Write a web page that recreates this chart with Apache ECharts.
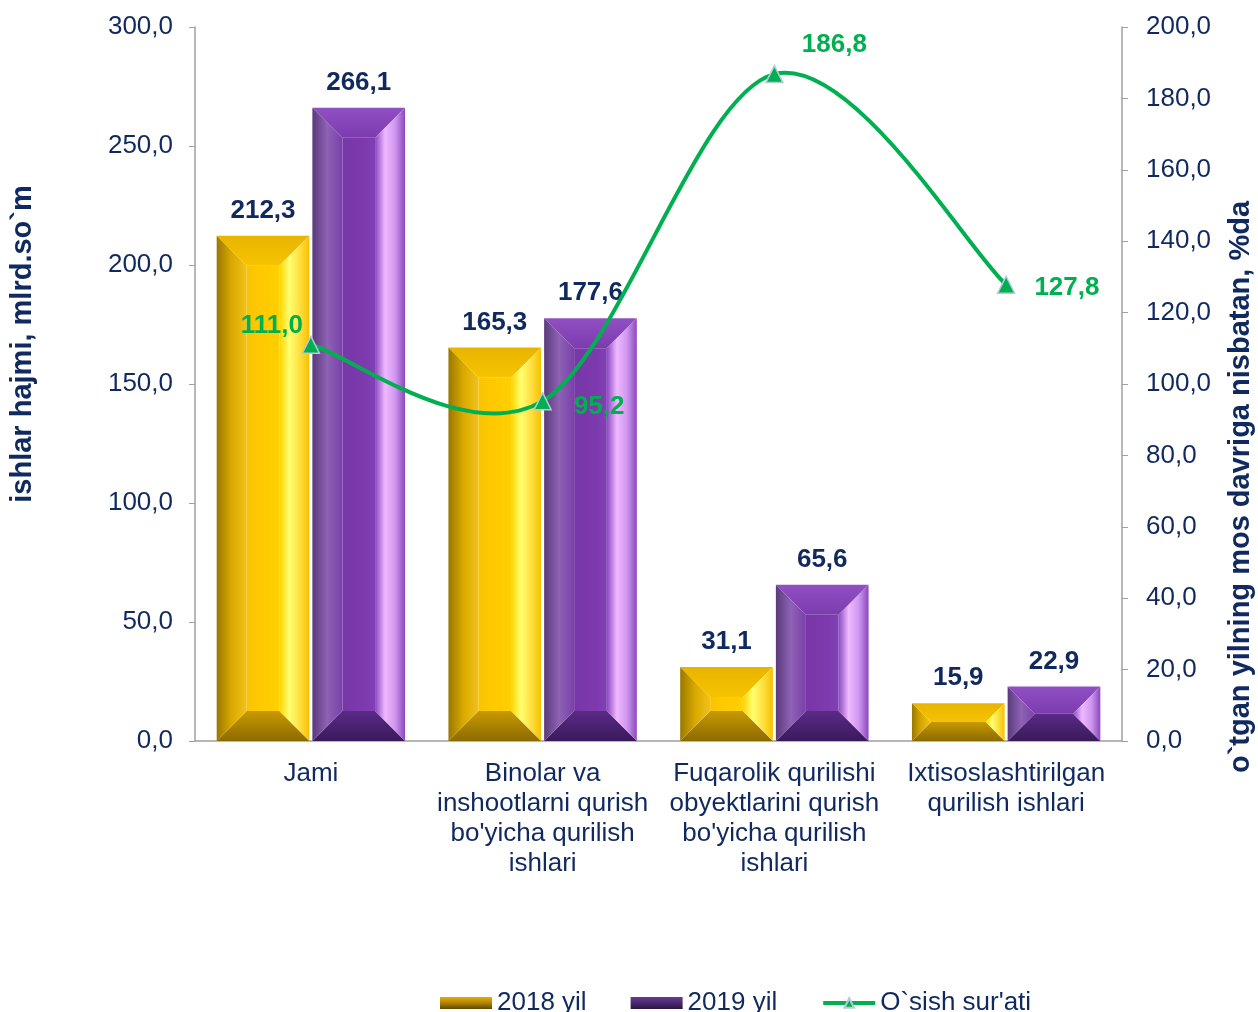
<!DOCTYPE html>
<html>
<head>
<meta charset="utf-8">
<script src="https://cdn.jsdelivr.net/npm/echarts@6/dist/echarts.min.js"></script>
<style>
  html, body { margin: 0; padding: 0; background: #fff; }
  #chart { width: 1258px; height: 1012px; }
</style>
</head>
<body>
<div id="chart"></div>
<script>
var categories = [
    'Jami',
    'Binolar va\ninshootlarni qurish\nbo\'yicha qurilish\nishlari',
    'Fuqarolik qurilishi\nobyektlarini qurish\nbo\'yicha qurilish\nishlari',
    'Ixtisoslashtirilgan\nqurilish ishlari'
];
var values2018 = [212.3, 165.3, 31.1, 15.9];
var values2019 = [266.1, 177.6, 65.6, 22.9];
var growthRate = [111.0, 95.2, 186.8, 127.8];
var leftTicks = [0, 300, 50];
var rightTicks = [0, 200, 20];

var NAVY = '#10295F';
var GREEN = '#00B050';
var FONT = 'Arial, "Liberation Sans", sans-serif';

function fmt(v) {
    return v.toFixed(1).replace('.', ',');
}

function hgrad(stops) {
    return {type: 'linear', x: 0, y: 0, x2: 1, y2: 0,
        colorStops: stops.map(function (c, i) { return {offset: i / (stops.length - 1), color: c}; })};
}
function vgrad(stops) {
    return {type: 'linear', x: 0, y: 0, x2: 0, y2: 1,
        colorStops: stops.map(function (c, i) { return {offset: i / (stops.length - 1), color: c}; })};
}

var yellowPal = {
    center: hgrad(['#F8C400', '#FFC800', '#FFCB00', '#FFD000']),
    top: vgrad(['#E9B400', '#F6C400']),
    bottom: vgrad(['#C89A00', '#8C6A00']),
    left: hgrad(['#9A7800', '#D9A900', '#F3C21A']),
    right: hgrad(['#FFD400', '#FFFF70', '#FFE040', '#F6C000'])
};
var purplePal = {
    center: hgrad(['#7838A8', '#7A38AA', '#7C3AAE', '#8040B4']),
    top: vgrad(['#9050C4', '#7C3CAE']),
    bottom: vgrad(['#5A2A88', '#3A1A5A']),
    left: hgrad(['#5A3A7C', '#8E62B4', '#7A40AA']),
    right: hgrad(['#8A48C0', '#F0B8FF', '#D098F0', '#8A48BC'])
};

// bevelled bar, drawn from the axis coordinates
function bevelRenderer(pal, side) {
    return function (params, api) {
        var top = api.coord([api.value(0), api.value(1)]);
        var base = api.coord([api.value(0), 0]);
        var bw = api.size([1, 0])[0];
        var w = bw * 0.4;
        var x0 = side < 0 ? top[0] - 1.5 - w : top[0] + 1.5;
        var x1 = x0 + w;
        var y0 = top[1], y1 = base[1];
        var h = y1 - y0;
        var b = Math.min(30, h / 2, w / 2);
        return {
            type: 'group',
            children: [
                {type: 'rect', shape: {x: x0 + b, y: y0 + b, width: w - 2 * b, height: Math.max(0, h - 2 * b)}, style: {fill: pal.center}},
                {type: 'polygon', shape: {points: [[x0, y0], [x1, y0], [x1 - b, y0 + b], [x0 + b, y0 + b]]}, style: {fill: pal.top}},
                {type: 'polygon', shape: {points: [[x0, y1], [x1, y1], [x1 - b, y1 - b], [x0 + b, y1 - b]]}, style: {fill: pal.bottom}},
                {type: 'polygon', shape: {points: [[x0, y0], [x0 + b, y0 + b], [x0 + b, y1 - b], [x0, y1]]}, style: {fill: pal.left}},
                {type: 'polygon', shape: {points: [[x1, y0], [x1 - b, y0 + b], [x1 - b, y1 - b], [x1, y1]]}, style: {fill: pal.right}},
                {type: 'text', x: (x0 + x1) / 2, y: y0 - 25, style: {
                    text: fmt(api.value(1)), fill: NAVY, font: 'bold 26px ' + FONT,
                    align: 'center', verticalAlign: 'middle'}}
            ]
        };
    };
}

// smoothed growth line (excel-like catmull-rom between the data points)
function curveRenderer(params, api) {
    var i = params.dataIndex;
    if (i === 0) return null;
    var n = growthRate.length;
    var pt = function (j) {
        j = Math.max(0, Math.min(n - 1, j));
        return api.coord([j, growthRate[j]]);
    };
    var p0 = pt(i - 2), p1 = pt(i - 1), p2 = pt(i), p3 = pt(i + 1);
    return {
        type: 'bezierCurve',
        shape: {
            x1: p1[0], y1: p1[1], x2: p2[0], y2: p2[1],
            cpx1: p1[0] + (p2[0] - p0[0]) / 6, cpy1: p1[1] + (p2[1] - p0[1]) / 6,
            cpx2: p2[0] - (p3[0] - p1[0]) / 6, cpy2: p2[1] - (p3[1] - p1[1]) / 6
        },
        style: {stroke: GREEN, lineWidth: 4, fill: null}
    };
}

var chart = echarts.init(document.getElementById('chart'));
chart.setOption({
    backgroundColor: '#fff',
    textStyle: {fontFamily: FONT},
    grid: {left: 195, right: 136, top: 27, bottom: 271, outerBoundsMode: 'none', containLabel: false},
    legend: {
        left: 435, top: 985,
        itemWidth: 52, itemHeight: 12, itemGap: 44,
        textStyle: {color: NAVY, fontSize: 26, fontFamily: FONT},
        data: [
            {name: '2018 yil', icon: 'rect'},
            {name: '2019 yil', icon: 'rect'},
            {name: 'O`sish sur\'ati', lineStyle: {color: GREEN, width: 4, opacity: 1}}
        ]
    },
    xAxis: {
        type: 'category',
        data: categories,
        axisLine: {lineStyle: {color: '#A0A0A0', width: 1.5}},
        axisTick: {show: false},
        axisLabel: {color: NAVY, fontSize: 26, lineHeight: 30, margin: 18, interval: 0, fontFamily: FONT}
    },
    yAxis: [{
        type: 'value',
        min: leftTicks[0], max: leftTicks[1], interval: leftTicks[2],
        name: 'ishlar hajmi, mlrd.so`m',
        nameLocation: 'middle', nameGap: 158, nameRotate: 90,
        nameTextStyle: {color: NAVY, fontSize: 29, fontWeight: 'bold', fontFamily: FONT, padding: [0, 0, 0, 80]},
        splitLine: {show: false},
        axisLine: {show: true, lineStyle: {color: '#A0A0A0', width: 1.5}},
        axisTick: {show: true, length: 6, lineStyle: {color: '#A0A0A0'}},
        axisLabel: {color: NAVY, fontSize: 26, margin: 22, formatter: fmt}
    }, {
        type: 'value',
        min: rightTicks[0], max: rightTicks[1], interval: rightTicks[2],
        name: 'o`tgan yilning mos davriga nisbatan, %da',
        nameLocation: 'middle', nameGap: 104, nameRotate: 90,
        nameTextStyle: {color: NAVY, fontSize: 29, fontWeight: 'bold', fontFamily: FONT, padding: [0, 206, 0, 0]},
        splitLine: {show: false},
        axisLine: {show: true, lineStyle: {color: '#A0A0A0', width: 1.5}},
        axisTick: {show: true, length: 6, lineStyle: {color: '#A0A0A0'}},
        axisLabel: {color: NAVY, fontSize: 26, margin: 24, formatter: fmt}
    }],
    series: [{
        name: '2018 yil',
        type: 'custom',
        renderItem: bevelRenderer(yellowPal, -1),
        itemStyle: {color: vgrad(['#E8B000', '#B08400', '#5E4600'])},
        encode: {x: 0, y: 1},
        data: values2018.map(function (v, i) { return [i, v]; }),
        z: 2
    }, {
        name: '2019 yil',
        type: 'custom',
        renderItem: bevelRenderer(purplePal, 1),
        itemStyle: {color: vgrad(['#6A3A98', '#4A2870', '#2A1640'])},
        encode: {x: 0, y: 1},
        data: values2019.map(function (v, i) { return [i, v]; }),
        z: 2
    }, {
        type: 'custom',
        yAxisIndex: 1,
        silent: true,
        renderItem: curveRenderer,
        encode: {x: 0, y: 1},
        data: growthRate.map(function (v, i) { return [i, v]; }),
        z: 4
    }, {
        name: 'O`sish sur\'ati',
        type: 'line',
        yAxisIndex: 1,
        data: growthRate.map(function (v, i) {
            var offsets = [[-39, -19], [0, 6], [60, -29], [-3, 3]];
            var inside = [true, false, true, false];
            return {value: v, label: {position: inside[i] ? 'inside' : 'right', offset: offsets[i]}};
        }),
        symbol: 'triangle',
        symbolSize: 17,
        lineStyle: {color: GREEN, width: 4, opacity: 0},
        itemStyle: {color: GREEN, borderColor: '#B8C8DC', borderWidth: 1.5},
        label: {
            show: true, color: GREEN, fontSize: 26, fontWeight: 'bold', distance: 22,
            formatter: function (p) { return fmt(p.value); }
        },
        z: 5
    }]
});
</script>
</body>
</html>
